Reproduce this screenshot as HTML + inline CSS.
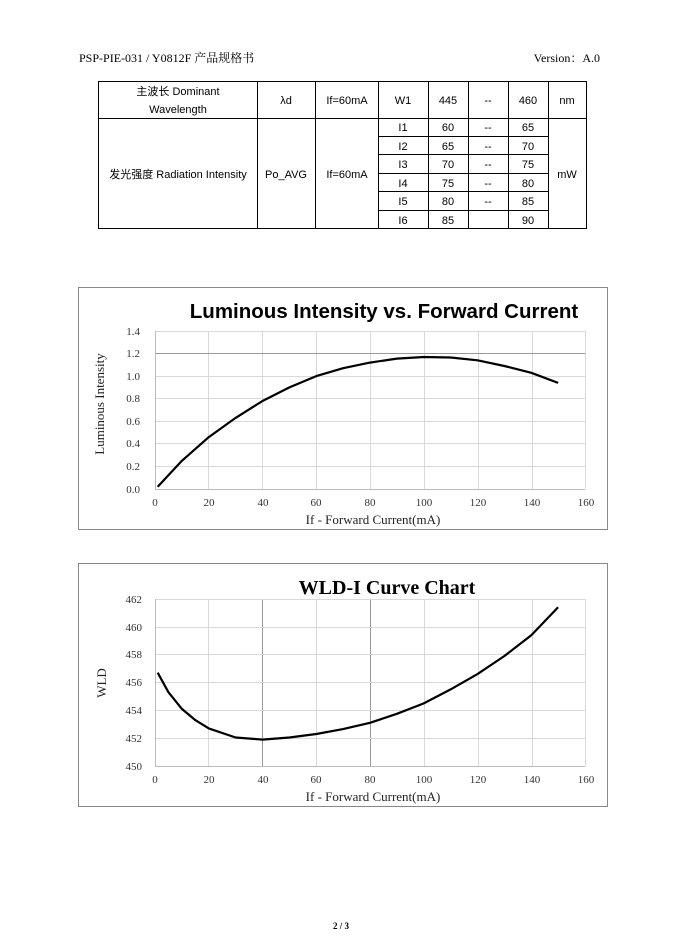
<!DOCTYPE html>
<html><head><meta charset="utf-8"><style>
body{margin:0;background:#fff;}
svg{display:block}
</style></head><body>
<svg width="682" height="942" xmlns="http://www.w3.org/2000/svg">
<rect width="682" height="942" fill="#fff"/>
<g font-family="Liberation Serif, Noto Serif CJK SC, serif" font-size="12" fill="#000">
<text x="79" y="62">PSP-PIE-031 / Y0812F 产品规格书</text>
<text x="600" y="62" text-anchor="end">Version：A.0</text>
<text x="341" y="929" text-anchor="middle" font-size="9" font-weight="bold">2 / 3</text>
</g>
<!-- table -->
<g stroke="#000" stroke-width="1" fill="none">
<rect x="98.5" y="81.5" width="488" height="147"/>
<line x1="98.5" y1="118.5" x2="586.5" y2="118.5"/>
<line x1="257.5" y1="81.5" x2="257.5" y2="228.5"/>
<line x1="315.5" y1="81.5" x2="315.5" y2="228.5"/>
<line x1="378.5" y1="81.5" x2="378.5" y2="228.5"/>
<line x1="428.5" y1="81.5" x2="428.5" y2="228.5"/>
<line x1="468.5" y1="81.5" x2="468.5" y2="228.5"/>
<line x1="508.5" y1="81.5" x2="508.5" y2="228.5"/>
<line x1="548.5" y1="81.5" x2="548.5" y2="228.5"/>
<line x1="378.5" y1="136.5" x2="548.5" y2="136.5"/>
<line x1="378.5" y1="154.5" x2="548.5" y2="154.5"/>
<line x1="378.5" y1="173.5" x2="548.5" y2="173.5"/>
<line x1="378.5" y1="191.5" x2="548.5" y2="191.5"/>
<line x1="378.5" y1="210.5" x2="548.5" y2="210.5"/>
</g>
<g font-family="Liberation Sans, Noto Sans CJK SC, sans-serif" font-size="11" fill="#000" text-anchor="middle">
<text x="178" y="95">主波长 Dominant</text>
<text x="178" y="113">Wavelength</text>
<text x="286" y="104">λd</text>
<text x="347" y="104">If=60mA</text>
<text x="403" y="104">W1</text>
<text x="448" y="104">445</text>
<text x="488" y="104">--</text>
<text x="528" y="104">460</text>
<text x="567" y="104">nm</text>
<text x="178" y="178">发光强度  Radiation Intensity</text>
<text x="286" y="178">Po_AVG</text>
<text x="347" y="178">If=60mA</text>
<text x="567" y="178">mW</text>
<text x="403" y="131">I1</text><text x="448" y="131">60</text><text x="488" y="131">--</text><text x="528" y="131">65</text>
<text x="403" y="150">I2</text><text x="448" y="150">65</text><text x="488" y="150">--</text><text x="528" y="150">70</text>
<text x="403" y="168">I3</text><text x="448" y="168">70</text><text x="488" y="168">--</text><text x="528" y="168">75</text>
<text x="403" y="187">I4</text><text x="448" y="187">75</text><text x="488" y="187">--</text><text x="528" y="187">80</text>
<text x="403" y="205">I5</text><text x="448" y="205">80</text><text x="488" y="205">--</text><text x="528" y="205">85</text>
<text x="403" y="224">I6</text><text x="448" y="224">85</text><text x="528" y="224">90</text>
</g>
<!-- chart 1 -->
<rect x="78.5" y="287.5" width="529" height="242" fill="none" stroke="#888"/>
<g stroke="#d9d9d9" stroke-width="1">
<line x1="208.5" y1="331" x2="208.5" y2="489"/><line x1="262.5" y1="331" x2="262.5" y2="489"/>
<line x1="316.5" y1="331" x2="316.5" y2="489"/><line x1="370.5" y1="331" x2="370.5" y2="489"/>
<line x1="424.5" y1="331" x2="424.5" y2="489"/><line x1="478.5" y1="331" x2="478.5" y2="489"/>
<line x1="532.5" y1="331" x2="532.5" y2="489"/><line x1="585.5" y1="331" x2="585.5" y2="489"/>
<line x1="155" y1="331.5" x2="585" y2="331.5"/><line x1="155" y1="353.5" x2="585" y2="353.5" stroke="#999"/>
<line x1="155" y1="376.5" x2="585" y2="376.5"/><line x1="155" y1="398.5" x2="585" y2="398.5"/>
<line x1="155" y1="421.5" x2="585" y2="421.5"/><line x1="155" y1="443.5" x2="585" y2="443.5"/>
<line x1="155" y1="466.5" x2="585" y2="466.5"/>
</g>
<line x1="155" y1="489.5" x2="585" y2="489.5" stroke="#bbb"/>
<line x1="155.5" y1="331" x2="155.5" y2="489" stroke="#bbb"/>
<polyline fill="none" stroke="#000" stroke-width="2.2" stroke-linejoin="round" points="157.7,486.7 181.9,460.8 208.8,437.1 235.6,417.9 262.5,401.0 289.4,387.4 316.3,376.1 343.1,368.2 370.0,362.6 396.9,358.6 423.8,357.0 450.6,357.5 477.5,360.3 504.4,366.0 531.3,372.8 558.1,382.9"/>
<g font-family="Liberation Serif, serif" font-size="11" fill="#333">
<text x="140" y="335" text-anchor="end">1.4</text><text x="140" y="357" text-anchor="end">1.2</text>
<text x="140" y="380" text-anchor="end">1.0</text><text x="140" y="402" text-anchor="end">0.8</text>
<text x="140" y="425" text-anchor="end">0.6</text><text x="140" y="447" text-anchor="end">0.4</text>
<text x="140" y="470" text-anchor="end">0.2</text><text x="140" y="493" text-anchor="end">0.0</text>
<g text-anchor="middle"><text x="155" y="506">0</text><text x="209" y="506">20</text><text x="263" y="506">40</text><text x="316" y="506">60</text><text x="370" y="506">80</text><text x="424" y="506">100</text><text x="478" y="506">120</text><text x="532" y="506">140</text><text x="586" y="506">160</text></g>
<text x="373" y="524" text-anchor="middle" font-size="13" fill="#222">If - Forward Current(mA)</text>
<text transform="translate(104,404) rotate(-90)" text-anchor="middle" font-size="13" fill="#222">Luminous Intensity</text>
</g>
<text x="384" y="318" text-anchor="middle" font-family="Liberation Sans, sans-serif" font-size="20.5" font-weight="bold">Luminous Intensity vs. Forward Current</text>
<!-- chart 2 -->
<rect x="78.5" y="563.5" width="529" height="243" fill="none" stroke="#888"/>
<g stroke="#d9d9d9" stroke-width="1">
<line x1="208.5" y1="599" x2="208.5" y2="766"/><line x1="262.5" y1="599" x2="262.5" y2="766" stroke="#999"/>
<line x1="316.5" y1="599" x2="316.5" y2="766"/><line x1="370.5" y1="599" x2="370.5" y2="766" stroke="#999"/>
<line x1="424.5" y1="599" x2="424.5" y2="766"/><line x1="478.5" y1="599" x2="478.5" y2="766"/>
<line x1="532.5" y1="599" x2="532.5" y2="766"/><line x1="585.5" y1="599" x2="585.5" y2="766"/>
<line x1="155" y1="599.5" x2="585" y2="599.5"/><line x1="155" y1="627.5" x2="585" y2="627.5"/>
<line x1="155" y1="654.5" x2="585" y2="654.5"/><line x1="155" y1="682.5" x2="585" y2="682.5"/>
<line x1="155" y1="710.5" x2="585" y2="710.5"/><line x1="155" y1="738.5" x2="585" y2="738.5"/>
</g>
<line x1="155" y1="766.5" x2="585" y2="766.5" stroke="#bbb"/>
<line x1="155.5" y1="599" x2="155.5" y2="766" stroke="#bbb"/>
<polyline fill="none" stroke="#000" stroke-width="2.2" stroke-linejoin="round" points="157.7,672.7 168.4,692.2 181.9,708.9 195.3,720.1 208.8,728.4 235.6,737.5 262.5,739.6 289.4,737.5 316.3,734.0 343.1,729.1 370.0,722.8 396.9,713.8 423.8,703.4 450.6,689.4 477.5,674.1 504.4,656.0 531.3,635.2 558.1,607.3"/>
<g font-family="Liberation Serif, serif" font-size="11" fill="#333">
<text x="142" y="603" text-anchor="end">462</text><text x="142" y="631" text-anchor="end">460</text>
<text x="142" y="658" text-anchor="end">458</text><text x="142" y="686" text-anchor="end">456</text>
<text x="142" y="714" text-anchor="end">454</text><text x="142" y="742" text-anchor="end">452</text>
<text x="142" y="770" text-anchor="end">450</text>
<g text-anchor="middle"><text x="155" y="783">0</text><text x="209" y="783">20</text><text x="263" y="783">40</text><text x="316" y="783">60</text><text x="370" y="783">80</text><text x="424" y="783">100</text><text x="478" y="783">120</text><text x="532" y="783">140</text><text x="586" y="783">160</text></g>
<text x="373" y="801" text-anchor="middle" font-size="13" fill="#222">If - Forward Current(mA)</text>
<text transform="translate(106,683) rotate(-90)" text-anchor="middle" font-size="13" fill="#222">WLD</text>
</g>
<text x="387" y="594" text-anchor="middle" font-family="Liberation Serif, serif" font-size="20" font-weight="bold">WLD-I Curve Chart</text>
</svg>
</body></html>
